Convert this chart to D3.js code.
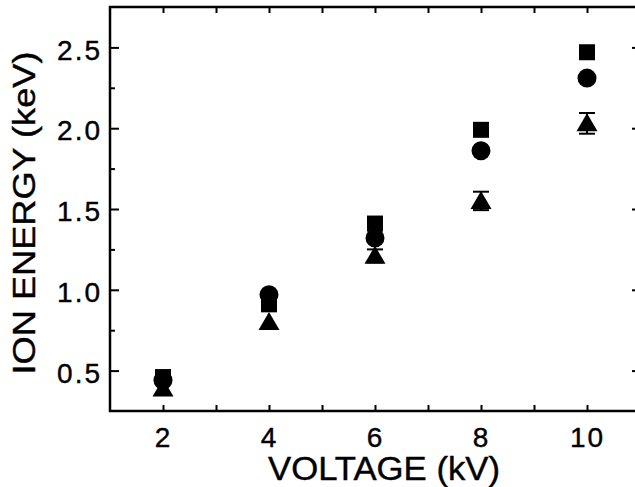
<!DOCTYPE html>
<html><head><meta charset="utf-8">
<script src="https://cdn.jsdelivr.net/npm/d3@7"></script>
<style>body{margin:0;background:#fff} svg{display:block}</style>
</head><body><svg id="c" width="635" height="487"></svg>
<script>
const voltages=[2,4,6,8,10];
const squareVals=[0.46,0.91,1.41,1.99,2.47];
const circleVals=[0.44,0.97,1.32,1.86,2.31];
const triangleVals=[0.39,0.80,1.21,1.55,2.03];
const triangleErr=[0,0,0.04,0.057,0.064];
const xMajorTicks=[2,4,6,8,10];
const xAllTicks=[2,3,4,5,6,7,8,9,10];
const yMajorTicks=[0.5,1.0,1.5,2.0,2.5];
const yMinorTicks=[0.75,1.25,1.75,2.25];
const xTitle="VOLTAGE (kV)";
const yTitle="ION ENERGY (keV)";

const svg=d3.select("#c");
const L=110,R=640,T=7,B=411;
const x=d3.scaleLinear().domain([1,11]).range([L,R]);
const y=d3.scaleLinear().domain([0.25,2.75]).range([B,T]);
const font="'Liberation Sans', Arial, Helvetica, sans-serif";

// frame
svg.append("rect").attr("x",L).attr("y",T).attr("width",R-L).attr("height",B-T)
  .attr("fill","none").attr("stroke","#000").attr("stroke-width",2.5);

function styleAxis(g){
  g.select(".domain").remove();
  g.selectAll(".tick line").attr("stroke","#000").attr("stroke-width",2);
  g.selectAll("text").attr("font-family",font).attr("font-size",28).attr("fill","#000")
    .attr("letter-spacing","2px").attr("stroke","#000").attr("stroke-width",0.4);
}
// bottom
svg.append("g").attr("transform",`translate(0,${B})`)
  .call(d3.axisBottom(x).tickValues(xAllTicks).tickSize(-6).tickPadding(16)
    .tickFormat(d=>xMajorTicks.includes(d)?String(d):""))
  .call(styleAxis);
// top
svg.append("g").attr("transform",`translate(0,${T})`)
  .call(d3.axisTop(x).tickValues(xAllTicks).tickSize(-6).tickFormat(""))
  .call(styleAxis);
// left major
svg.append("g").attr("transform",`translate(${L},0)`)
  .call(d3.axisLeft(y).tickValues(yMajorTicks).tickSize(-9).tickPadding(8)
    .tickFormat(d3.format(".1f")))
  .call(styleAxis)
  .selectAll("text").attr("dy","0.42em");
// left minor
svg.append("g").attr("transform",`translate(${L},0)`)
  .call(d3.axisLeft(y).tickValues(yMinorTicks).tickSize(-5).tickFormat(""))
  .call(styleAxis);
// right
svg.append("g").attr("transform",`translate(${R},0)`)
  .call(d3.axisRight(y).tickValues(yMajorTicks).tickSize(-8).tickFormat(""))
  .call(styleAxis);

// titles
svg.append("text").attr("x",384).attr("y",480).attr("text-anchor","middle")
  .attr("font-family",font).attr("font-size",33).attr("textLength",232)
  .attr("lengthAdjust","spacingAndGlyphs").attr("fill","#000")
  .attr("stroke","#000").attr("stroke-width",0.4).text(xTitle);
svg.append("text").attr("transform","translate(35,213) rotate(-90)")
  .attr("text-anchor","middle").attr("font-family",font).attr("font-size",31)
  .attr("textLength",323).attr("lengthAdjust","spacingAndGlyphs").attr("fill","#000")
  .attr("stroke","#000").attr("stroke-width",0.4).text(yTitle);

// data
const sq=voltages.map((v,i)=>({v,e:squareVals[i]}));
const ci=voltages.map((v,i)=>({v,e:circleVals[i]}));
const tr=voltages.map((v,i)=>({v,e:triangleVals[i],err:triangleErr[i]}));

svg.append("g").selectAll("rect").data(sq).join("rect")
  .attr("x",d=>x(d.v)-8).attr("y",d=>y(d.e)-8).attr("width",16).attr("height",16)
  .attr("fill","#000");
svg.append("g").selectAll("circle").data(ci).join("circle")
  .attr("cx",d=>x(d.v)).attr("cy",d=>y(d.e)).attr("r",9.5).attr("fill","#000");
const eb=svg.append("g").selectAll("g").data(tr.filter(d=>d.err>0)).join("g");
eb.append("line").attr("x1",d=>x(d.v)).attr("x2",d=>x(d.v))
  .attr("y1",d=>y(d.e+d.err)).attr("y2",d=>y(d.e-d.err)).attr("stroke","#000").attr("stroke-width",2);
eb.append("line").attr("x1",d=>x(d.v)-8).attr("x2",d=>x(d.v)+8)
  .attr("y1",d=>y(d.e+d.err)).attr("y2",d=>y(d.e+d.err)).attr("stroke","#000").attr("stroke-width",2);
eb.append("line").attr("x1",d=>x(d.v)-8).attr("x2",d=>x(d.v)+8)
  .attr("y1",d=>y(d.e-d.err)).attr("y2",d=>y(d.e-d.err)).attr("stroke","#000").attr("stroke-width",2);
svg.append("g").selectAll("path").data(tr).join("path")
  .attr("d",d=>{const cx=x(d.v),cy=y(d.e);return `M${cx},${cy-10}L${cx+10.5},${cy+8}L${cx-10.5},${cy+8}Z`;})
  .attr("fill","#000");
</script></body></html>
